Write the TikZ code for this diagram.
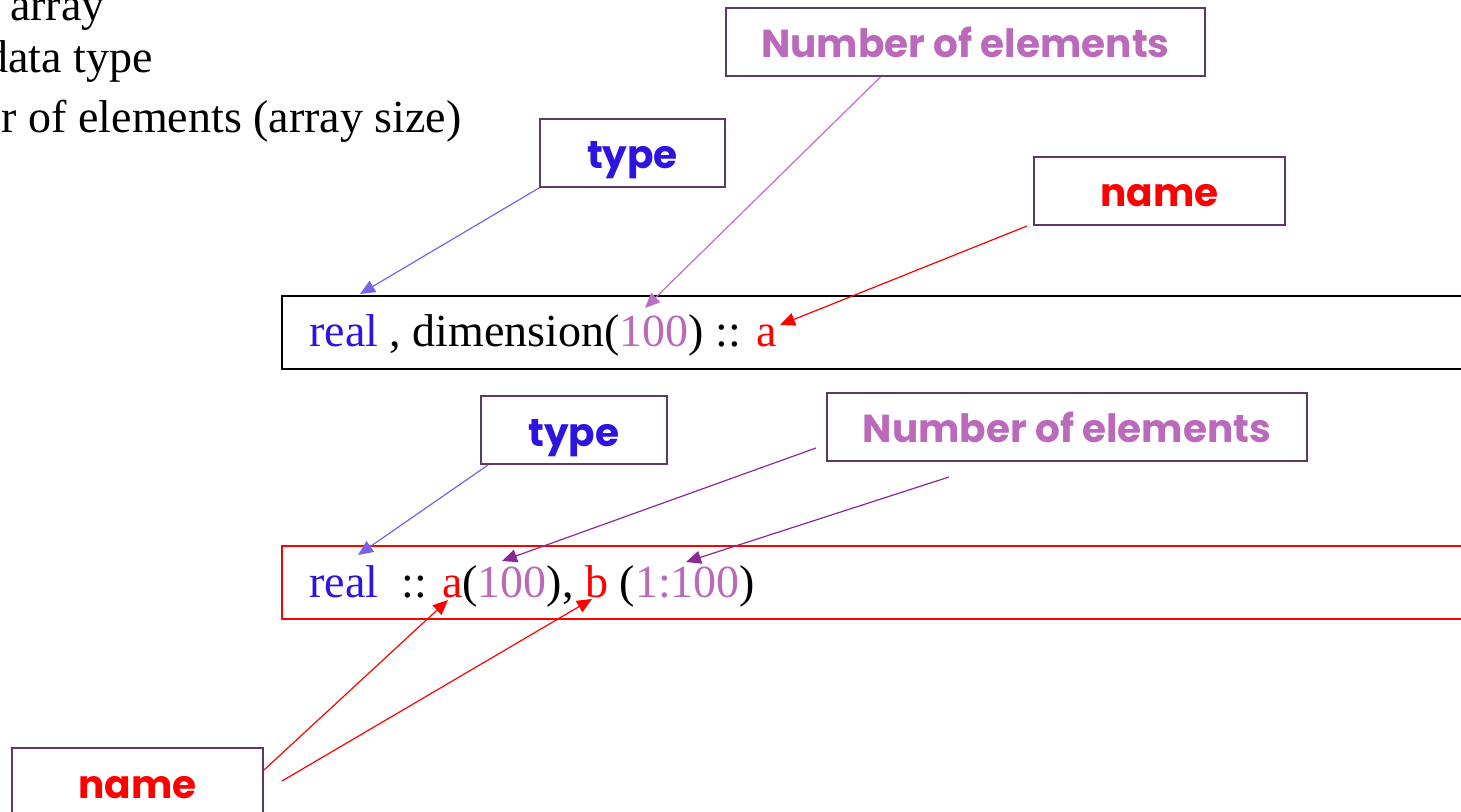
\documentclass[tikz,border=0pt]{standalone}
\usepackage{fontspec}
\setmainfont{Liberation Serif}
\newfontfamily\gothic{Poppins}
\usetikzlibrary{
	arrows.meta,
	positioning
}
\definecolor{TypeBlue}{RGB}{45,20,222}
\definecolor{SizePink}{RGB}{187,106,187}
\definecolor{BoxPurple}{RGB}{92,58,100}
\definecolor{ArrBlue}{RGB}{118,100,230}
\definecolor{ArrPink}{RGB}{190,110,200}
\definecolor{ArrPurple}{RGB}{140,40,150}

\begin{document}
\begin{tikzpicture}[x=0.5pt, y=-0.5pt,
	lbl/.style={draw=BoxPurple, line width=1pt, minimum height=34pt, inner sep=0pt, text height=16pt, text depth=0pt, font=\gothic\bfseries\fontsize{19.5}{22}\selectfont},
	codebox/.style={draw, line width=1pt, minimum height=36.5pt, minimum width=600pt, anchor=north west},
	code/.style={anchor=base west, inner sep=0pt, font=\fontsize{23}{27}\selectfont},
	tip/.style={-{Triangle[length=7.5pt, width=6.5pt]}, line width=0.6pt}]
		\clip (0,0) rectangle (1461,812);
		\node[code, anchor=base east] (line1) at (105,21) {array};
		\node[code, anchor=base east] (line2) at (153,73) {data type};
		\node[code, anchor=base east] (line3) at (462,133) {Number of elements (array size)};
		\node[lbl, minimum width=239.5pt, text=SizePink] (size1) at (965.5,42) {Number of elements};
		\node[lbl, minimum width=92.5pt, text=TypeBlue] (type1) at (632.5,153) {type};
		\node[lbl, minimum width=125.5pt, text=red] (name1) at (1159.5,191) {name};
		\node[codebox] (decl1) at (281,295) {};
		\node[code] (text1) at (309,347) {\textcolor{TypeBlue}{real} , dimension(\textcolor{SizePink}{100}) :: \textcolor{red}{a}};
		\node[lbl, minimum width=93pt, text=TypeBlue] (type2) at (574,430) {type};
		\node[lbl, minimum width=240pt, text=SizePink] (size2) at (1067,427) {Number of elements};
		\node[codebox, draw=red] (decl2) at (281,545) {};
		\node[code] (text2) at (309,597) {\textcolor{TypeBlue}{real}\ \ :: \textcolor{red}{a}(\textcolor{SizePink}{100}), \textcolor{red}{b} (\textcolor{SizePink}{1:100})};
		\node[lbl, minimum width=125.5pt, text=red] (name2) at (137.5,782) {name};
		\coordinate (t1) at (360,294);
		\coordinate (s1) at (645,308);
		\coordinate (n1) at (780,325);
		\coordinate (t2) at (358,555);
		\coordinate (s2a) at (502,561);
		\coordinate (s2b) at (686,562);
		\coordinate (s2c) at (949,477);
		\coordinate (n2a) at (448,600);
		\coordinate (n2b) at (592,599);
		\coordinate (n2c) at (282,781);
		\draw[tip, ArrBlue] (type1.south west) -- (t1);
		\draw[tip, ArrPink] ([xshift=-42.5pt]size1.south) -- (s1);
		\draw[tip, red] ([xshift=-3pt]name1.south west) -- (n1);
		\draw[tip, ArrBlue] ([xshift=4pt]type2.south west) -- (t2);
		\draw[tip, ArrPurple] ([xshift=-5pt, yshift=7pt]size2.south west) -- (s2a);
		\draw[tip, ArrPurple] (s2c) -- (s2b);
		\draw[tip, red] ([yshift=6pt]name2.east) -- (n2a);
		\draw[tip, red] (n2c) -- (n2b);
\end{tikzpicture}
\end{document}
